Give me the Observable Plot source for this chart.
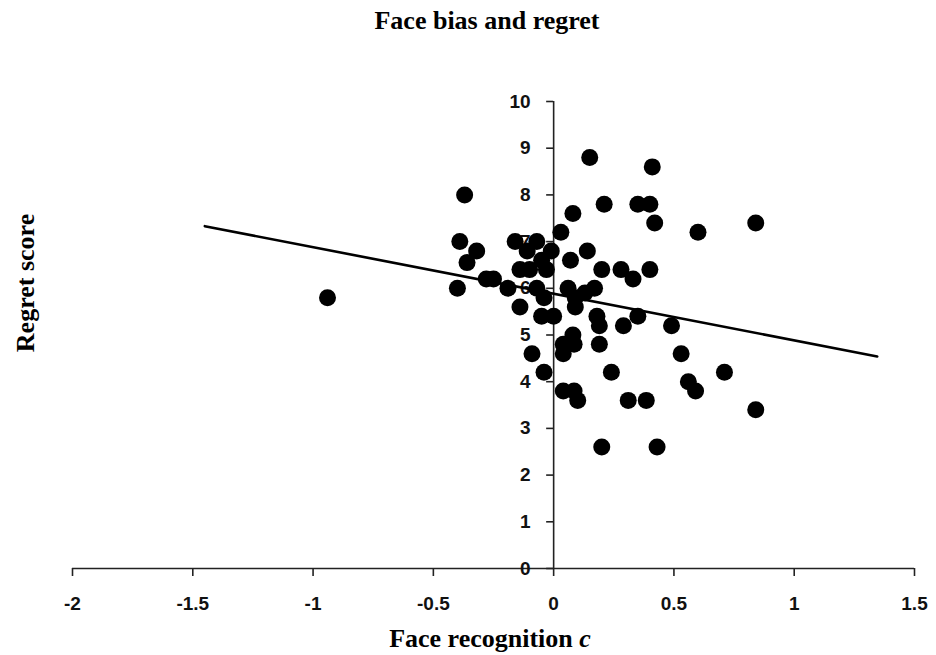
<!DOCTYPE html>
<html>
<head>
<meta charset="utf-8">
<script src="https://cdn.jsdelivr.net/npm/d3@7"></script>
<script src="https://cdn.jsdelivr.net/npm/@observablehq/plot@0.6"></script>
<style>
  html, body { margin: 0; padding: 0; background: #fff; }
  #wrap { width: 936px; height: 655px; position: relative; }
  #title { width: 936px; height: 50px; box-sizing: border-box; padding-left: 38px; padding-top: 8px;
           text-align: center; font-family: "Liberation Serif", "Times New Roman", serif; font-weight: bold;
           font-size: 26px; line-height: 26px; color: #000; }
  svg { display: block; }
</style>
</head>
<body>
<div id="wrap">
  <div id="title">Face bias and regret</div>
  <div id="chart"></div>
</div>
<script>
// Face recognition criterion c (x) and regret score (y)
const biasC = [
  -0.94, -0.37, -0.39, -0.32, -0.36, -0.40, -0.28, -0.25, -0.19, -0.16,
  -0.07, -0.11, -0.01, -0.05, -0.14, -0.10, -0.03, -0.07, -0.04, -0.14,
  -0.05, 0.00, -0.09, -0.04, 0.03, 0.08, 0.15, 0.21, 0.35, 0.40,
  0.41, 0.42, 0.60, 0.84, 0.07, 0.14, 0.20, 0.28, 0.33, 0.40,
  0.06, 0.09, 0.09, 0.17, 0.13, 0.18, 0.19, 0.29, 0.35, 0.49,
  0.08, 0.04, 0.085, 0.04, 0.19, 0.24, 0.53, 0.56, 0.59, 0.71,
  0.04, 0.085, 0.10, 0.31, 0.385, 0.84, 0.20, 0.43
];
const regretScore = [
  5.8, 8.0, 7.0, 6.8, 6.55, 6.0, 6.2, 6.2, 6.0, 7.0,
  7.0, 6.8, 6.8, 6.6, 6.4, 6.4, 6.4, 6.0, 5.8, 5.6,
  5.4, 5.4, 4.6, 4.2, 7.2, 7.6, 8.8, 7.8, 7.8, 7.8,
  8.6, 7.4, 7.2, 7.4, 6.6, 6.8, 6.4, 6.4, 6.2, 6.4,
  6.0, 5.8, 5.6, 6.0, 5.9, 5.4, 5.2, 5.2, 5.4, 5.2,
  5.0, 4.8, 4.8, 4.6, 4.8, 4.2, 4.6, 4.0, 3.8, 4.2,
  3.8, 3.8, 3.6, 3.6, 3.6, 3.4, 2.6, 2.6
];
// Fitted trend line end points
const trendX = [-1.45, 1.345];
const trendY = [7.33, 4.54];
// Tick values
const xTicks = [-2, -1.5, -1, -0.5, 0, 0.5, 1, 1.5];
const yTicks = [0, 1, 2, 3, 4, 5, 6, 7, 8, 9, 10];

const points = biasC.map((c, i) => ({c, r: regretScore[i]}));
const trend = trendX.map((x, i) => ({x, y: trendY[i]}));

const tickFont = {fontFamily: "'Liberation Sans', Arial, sans-serif", fontWeight: "bold", fontSize: 19};

const chart = Plot.plot({
  width: 936,
  height: 605,
  marginTop: 51,
  marginBottom: 87,
  marginLeft: 72,
  marginRight: 22,
  style: {background: "#fff", color: "#000", overflow: "visible"},
  x: {domain: [-2, 1.5]},
  y: {domain: [0, 10]},
  marks: [
    Plot.ruleY([0], {x1: -2, x2: 1.5, stroke: "#222", strokeWidth: 1.6}),
    Plot.ruleX([0], {y1: 0, y2: 10, stroke: "#222", strokeWidth: 1.6}),
    Plot.axisX(xTicks, {
      anchor: "bottom", tickSize: 8, tickPadding: 20, stroke: "#222", strokeWidth: 1.6,
      tickFormat: d => String(d), label: null, fill: "#111", ...tickFont
    }),
    Plot.axisY(yTicks, {
      anchor: "left", x: 0, tickSize: 7, tickPadding: 16, stroke: "#222", strokeWidth: 1.6,
      tickFormat: d => String(d), label: null, fill: "#111", ...tickFont
    }),
    Plot.line(trend, {x: "x", y: "y", stroke: "#000", strokeWidth: 2.6}),
    Plot.dot(points, {x: "c", y: "r", r: 8.5, fill: "#000", stroke: "none"})
  ]
});

document.getElementById("chart").appendChild(chart);

const svg = d3.select(chart);
const xLab = svg.append("text")
  .attr("x", 490).attr("y", 597)
  .attr("text-anchor", "middle")
  .attr("font-family", "'Liberation Serif', 'Times New Roman', serif")
  .attr("font-weight", "bold").attr("font-size", 26).attr("fill", "#000");
xLab.append("tspan").text("Face recognition ");
xLab.append("tspan").attr("font-style", "italic").text("c");

svg.append("text")
  .attr("transform", "translate(34,233) rotate(-90)")
  .attr("text-anchor", "middle")
  .attr("font-family", "'Liberation Serif', 'Times New Roman', serif")
  .attr("font-weight", "bold").attr("font-size", 26).attr("fill", "#000")
  .text("Regret score");
</script>
</body>
</html>
